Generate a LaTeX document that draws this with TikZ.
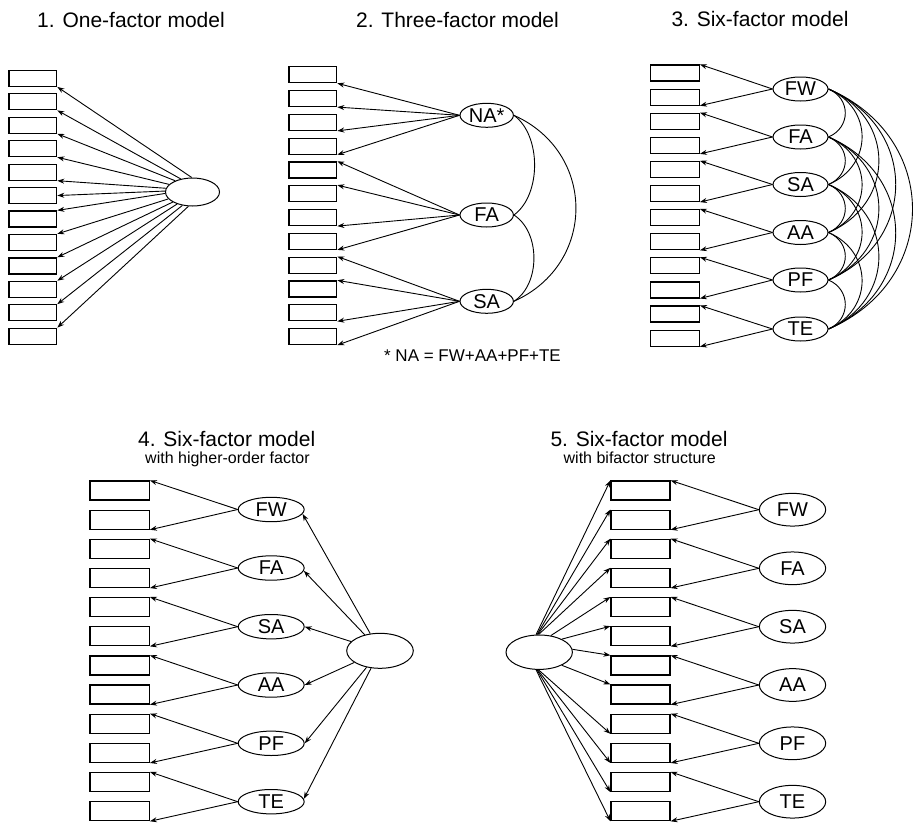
\documentclass[tikz,border=0pt]{standalone}
\usepackage{fontspec}
\setmainfont{Liberation Sans}
\usetikzlibrary{shapes.geometric,arrows.meta,calc}
\begin{document}
\begin{tikzpicture}[x=1pt,y=-1pt,
  ttl/.style={font=\fontsize{21}{25}\selectfont, inner sep=0, anchor=base},
  subttl/.style={font=\fontsize{16}{19}\selectfont, inner sep=0, anchor=base},
  note/.style={font=\fontsize{17}{20}\selectfont, inner sep=0, anchor=base},
  boxA/.style={draw, line width=1.2pt, minimum width=47.7pt, minimum height=16pt, inner sep=0},
  boxB/.style={draw, line width=1.2pt, minimum width=59.3pt, minimum height=19pt, inner sep=0},
  lat/.style={draw, ellipse, line width=1pt, inner sep=0, font=\fontsize{20}{20}\selectfont},
  arr/.style={-{Stealth[length=7pt,width=5pt]}, line width=0.9pt},
  corr/.style={line width=0.9pt}]
\fill[white] (0,0) rectangle (913,822);
\useasboundingbox (0,0) rectangle (913,822);

% ---------- titles ----------
\node[ttl] (t1) at (131,27) {1. One-factor model};
\node[ttl] (t2) at (457.5,27) {2. Three-factor model};
\node[ttl] (t3) at (760,26) {3. Six-factor model};
\node[ttl] (t4) at (226.7,446) {4. Six-factor model};
\node[subttl] (s4) at (227.5,463) {with higher-order factor};
\node[ttl] (t5) at (639,446) {5. Six-factor model};
\node[subttl] (s5) at (639.7,463) {with bifactor structure};
\node[note] (fn) at (472.5,361.5) {* NA = FW+AA+PF+TE};

% ---------- model 1 ----------
\foreach \i in {0,...,11}
  \node[boxA] (m1b\i) at (32.85,{78.3+23.45*\i}) {};
\node[lat, minimum width=54pt, minimum height=28pt] (m1f) at (192.5,192) {};
\foreach \i/\a/\t in {0/93/south east,1/132/south east,2/147/south east,3/162/south east,4/172/south east,5/178/east,6/183/north east,7/196/north east,8/207/north east,9/218/north east,10/233/north east,11/254/north east}
  \draw[arr] (m1f.\a) -- (m1b\i.\t);

% ---------- model 2 ----------
\foreach \i in {0,...,11}
  \node[boxA] (m2b\i) at (312.85,{74.7+23.8*\i}) {};
\node[lat, minimum width=53.4pt, minimum height=24pt] (NA) at (486.7,115.3) {NA*};
\node[lat, minimum width=53.4pt, minimum height=24pt] (FA2) at (486.7,215) {FA};
\node[lat, minimum width=53.4pt, minimum height=24pt] (SA2) at (486.7,301.3) {SA};
\foreach \i/\t in {0/south east,1/south east,2/south east,3/south east}
  \draw[arr] (NA.west) -- (m2b\i.\t);
\foreach \i/\t in {4/north east,5/north east,6/south east,7/south east}
  \draw[arr] (FA2.west) -- (m2b\i.\t);
\foreach \i/\t in {8/north east,9/north east,10/south east,11/south east}
  \draw[arr] (SA2.west) -- (m2b\i.\t);
\draw[corr] (NA.east) .. controls ($(NA.east)+(27.6,20)$) and ($(FA2.east)+(27.6,-20)$) .. (FA2.east);
\draw[corr] (FA2.east) .. controls ($(FA2.east)+(26.7,17)$) and ($(SA2.east)+(26.7,-17)$) .. (SA2.east);
\draw[corr] (NA.east) .. controls ($(NA.east)+(82.7,37)$) and ($(SA2.east)+(82.7,-37)$) .. (SA2.east);

% ---------- model 3 ----------
\foreach \i in {0,...,11}
  \node[boxA, minimum width=48.6pt] (m3b\i) at (675,{73+24.1*\i}) {};
\foreach \k/\lab/\y in {0/FW/89,1/FA/137,2/SA/184.5,3/AA/232.5,4/PF/280,5/TE/329}
  \node[lat, minimum width=55pt, minimum height=24pt] (m3f\k) at (800.5,\y) {\lab};
\foreach \k in {0,...,5}{
  \pgfmathtruncatemacro\ua{2*\k}
  \pgfmathtruncatemacro\ub{2*\k+1}
  \draw[arr] (m3f\k.west) -- (m3b\ua.north east);
  \draw[arr] (m3f\k.west) -- (m3b\ub.south east);
}
\foreach \i in {0,...,4}{
  \pgfmathtruncatemacro\ip{\i+1}
  \foreach \j in {\ip,...,5}{
    \pgfmathsetmacro\cc{4/3*0.35*48*(\j-\i)}
    \pgfmathsetmacro\dd{0.2*48*(\j-\i)}
    \draw[corr] (m3f\i.east) .. controls ($(m3f\i.east)+(\cc,\dd)$) and ($(m3f\j.east)+(\cc,-\dd)$) .. (m3f\j.east);
  }
}

% ---------- model 4 ----------
\foreach \i in {0,...,11}
  \node[boxB] (m4b\i) at (119.65,{490.5+29.15*\i}) {};
\foreach \k/\lab/\y in {0/FW/509.5,1/FA/568,2/SA/626.7,3/AA/685,4/PF/743.3,5/TE/801.7}
  \node[lat, minimum width=66pt, minimum height=24.4pt] (m4f\k) at (271.2,\y) {\lab};
\node[lat, minimum width=66.6pt, minimum height=35pt] (H) at (380,650.8) {};
\foreach \k in {0,...,5}{
  \pgfmathtruncatemacro\ua{2*\k}
  \pgfmathtruncatemacro\ub{2*\k+1}
  \draw[arr] (m4f\k.west) -- (m4b\ua.north east);
  \draw[arr] (m4f\k.west) -- (m4b\ub.south east);
}
\foreach \k/\a in {0/-8,1/-5,2/0,3/0,4/0,5/5}
  \draw[arr] (H) -- (m4f\k.\a);

% ---------- model 5 ----------
\foreach \i in {0,...,11}
  \node[boxB, minimum width=59pt] (m5b\i) at (640.5,{490.5+29.15*\i}) {};
\foreach \k/\lab/\y in {0/FW/509.7,1/FA/568.3,2/SA/626.7,3/AA/685,4/PF/743.3,5/TE/801.7}
  \node[lat, minimum width=66.4pt, minimum height=32.7pt] (m5f\k) at (792.5,\y) {\lab};
\node[lat, minimum width=66.4pt, minimum height=34.4pt] (G) at (539.2,652.2) {};
\foreach \k in {0,...,5}{
  \pgfmathtruncatemacro\ua{2*\k}
  \pgfmathtruncatemacro\ub{2*\k+1}
  \draw[arr] (m5f\k.west) -- (m5b\ua.north east);
  \draw[arr] (m5f\k.west) -- (m5b\ub.south east);
}
\foreach \i/\a/\t in {0/100/north west,1/97/north west,2/95/north west,3/92/north west,4/55/north west,5/30/north west,6/5/north west,7/-30/north west,8/-92/south west,9/-95/south west,10/-97/south west,11/-100/south west}
  \draw[arr] (G.\a) -- (m5b\i.\t);
\end{tikzpicture}
\end{document}
